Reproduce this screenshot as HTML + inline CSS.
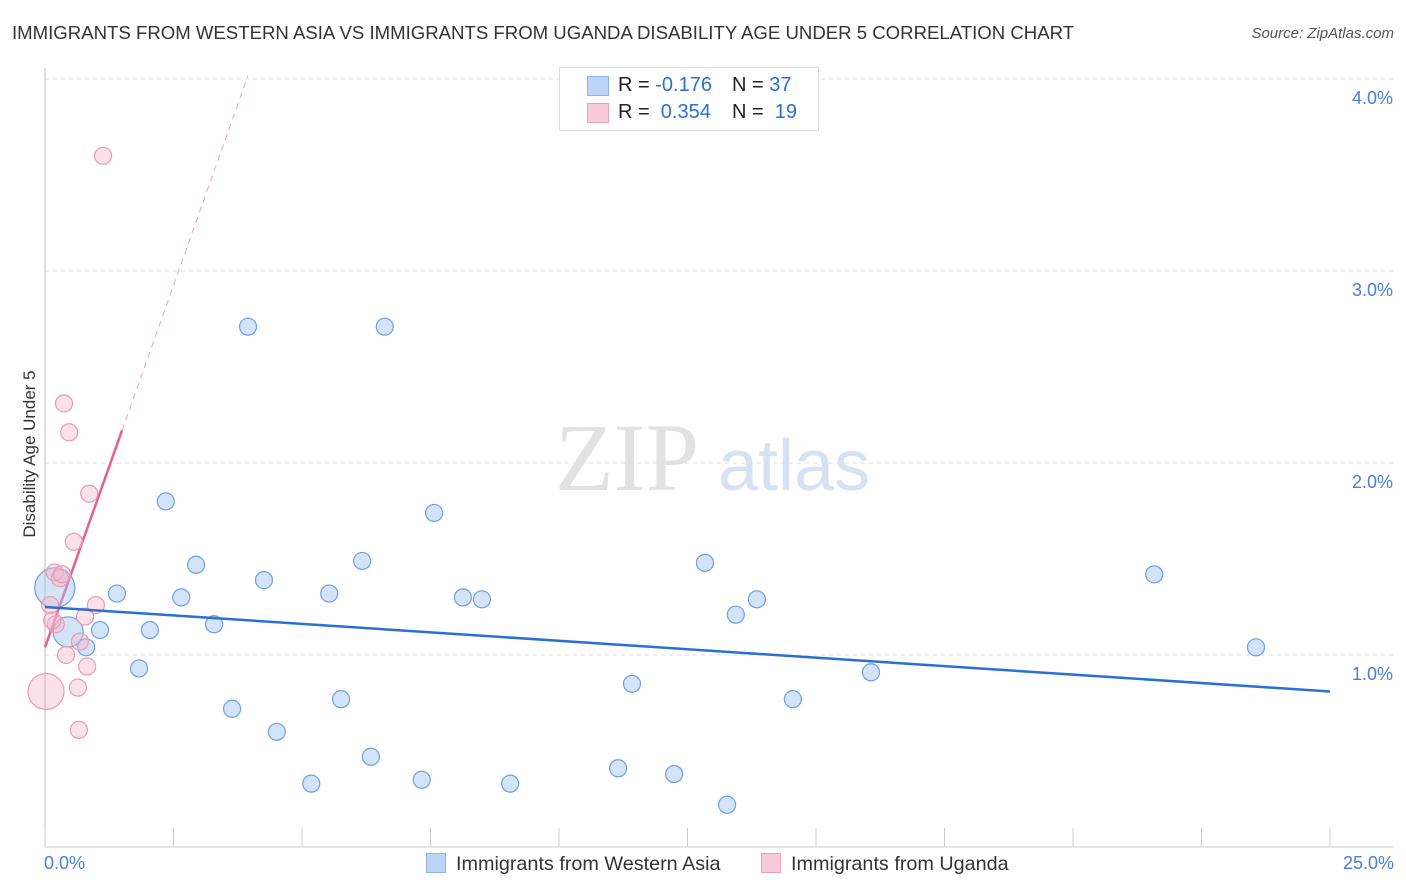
<!DOCTYPE html>
<html><head><meta charset="utf-8"><style>
body{margin:0;background:#fff;font-family:"Liberation Sans",sans-serif;}
#wrap{position:relative;width:1406px;height:892px;overflow:hidden;}
.t{position:absolute;white-space:nowrap;}
</style></head><body>
<div id="wrap">
<div class="t" style="left:12px;top:22px;font-size:18.6px;color:#333;">IMMIGRANTS FROM WESTERN ASIA VS IMMIGRANTS FROM UGANDA DISABILITY AGE UNDER 5 CORRELATION CHART</div>
<div class="t" style="right:12px;top:25px;font-size:15px;color:#555;font-style:italic;">Source: ZipAtlas.com</div>
<svg id="svg" width="1406" height="892" style="position:absolute;left:0;top:0"></svg>
</div>
<script>
const blueX=[3.95,6.61,2.35,7.57,2.94,6.17,4.26,1.40,2.65,5.53,8.13,8.50,3.29,2.04,1.07,0.80,1.83,3.64,4.51,5.76,6.34,5.18,7.33,9.05,11.42,11.15,12.24,13.27,12.84,13.85,13.44,14.55,16.07,21.58,23.56,0.19,0.45];
const blueY=[2.71,2.71,1.80,1.74,1.47,1.49,1.39,1.32,1.30,1.32,1.30,1.29,1.16,1.13,1.13,1.04,0.93,0.72,0.60,0.77,0.47,0.33,0.35,0.33,0.85,0.41,0.38,0.22,1.48,1.29,1.21,0.77,0.91,1.42,1.04,1.35,1.12];
const blueR=[8.5,8.5,8.5,8.5,8.5,8.5,8.5,8.5,8.5,8.5,8.5,8.5,8.5,8.5,8.5,8.5,8.5,8.5,8.5,8.5,8.5,8.5,8.5,8.5,8.5,8.5,8.5,8.5,8.5,8.5,8.5,8.5,8.5,8.5,8.5,20,15];
const pinkX=[1.13,0.37,0.47,0.86,0.56,0.19,0.29,0.99,0.78,0.10,0.21,0.68,0.41,0.82,0.64,0.02,0.66,0.33,0.14];
const pinkY=[3.60,2.31,2.16,1.84,1.59,1.43,1.40,1.26,1.20,1.26,1.16,1.07,1.00,0.94,0.83,0.81,0.61,1.42,1.18];
const pinkR=[8.5,8.5,8.5,8.5,8.5,8.5,8.5,8.5,8.5,8.5,8.5,8.5,8.5,8.5,8.5,18,8.5,8.5,8.5];
const yTicks=[1,2,3,4];
const yTickLabels=["1.0%","2.0%","3.0%","4.0%"];
const blueTrend=[1.25,0.81];
const pinkTrend=[1.04,0.754];
const X=v=>45+v*51.4, Y=v=>847-v*192;
const svg=document.getElementById('svg');const NS='http://www.w3.org/2000/svg';
function mk(t,a,p){const e=document.createElementNS(NS,t);for(const k in a)e.setAttribute(k,a[k]);(p||svg).appendChild(e);return e;}
let w=mk('text',{x:555,y:490,'font-size':96,'font-family':'Liberation Serif',fill:'#e2e2e2'});w.textContent='ZIP';


let w2=mk('text',{x:718,y:490,'font-size':72,'font-family':'Liberation Sans',fill:'#d6e2f3'});w2.textContent='atlas';


yTicks.forEach((v,i)=>{
 let g=mk('line',{x1:45,x2:1393,y1:Y(v),y2:Y(v),stroke:'#ddd','stroke-dasharray':'4,4'});
 
 
 let t=mk('text',{x:1393,y:Y(v)+25,'text-anchor':'end','font-size':18,fill:'#4a7fd6'});t.textContent=yTickLabels[i];
 
 
});
mk('line',{x1:45,x2:45,y1:68,y2:847,stroke:'#bbb'});
mk('line',{x1:45,x2:1393,y1:847,y2:847,stroke:'#ccc'});
for(let i=0;i<=10;i++){let l=mk('line',{x1:X(i*2.5),x2:X(i*2.5),y1:828,y2:847,stroke:'#ccc'});
 
 }
let px1=0,px2=1.5,px3=3.95;
let pl=mk('line',{x1:X(px1),y1:Y(pinkTrend[0]+pinkTrend[1]*px1),x2:X(px2),y2:Y(pinkTrend[0]+pinkTrend[1]*px2),stroke:'#e8608a','stroke-width':2.5});


let pd=mk('line',{x1:X(px2),y1:Y(pinkTrend[0]+pinkTrend[1]*px2),x2:X(px3),y2:Y(pinkTrend[0]+pinkTrend[1]*px3),stroke:'#eaa3b8','stroke-width':1,'stroke-dasharray':'6,5'});


blueX.forEach((x,i)=>{let c=mk('circle',{cx:X(x),cy:Y(blueY[i]),r:blueR[i],fill:'rgba(160,195,240,0.45)',stroke:'#6f9fe0','stroke-width':1.2});
 
 });
pinkX.forEach((x,i)=>{let c=mk('circle',{cx:X(x),cy:Y(pinkY[i]),r:pinkR[i],fill:'rgba(245,180,200,0.4)',stroke:'#eb9ab3','stroke-width':1.2});
 
 });
let bl=mk('line',{x1:X(0),y1:Y(blueTrend[0]),x2:X(25),y2:Y(blueTrend[1]),stroke:'#2a6fd6','stroke-width':2.5});


</script>
<div class="t" style="left:-60px;top:444px;width:180px;text-align:center;font-size:17px;color:#333;transform:rotate(-90deg);">Disability Age Under 5</div>
<div class="t" style="left:44px;top:853px;font-size:18px;color:#4a7fd6;">0.0%</div>
<div class="t" style="right:12px;top:853px;font-size:18px;color:#4a7fd6;">25.0%</div>
<div style="position:absolute;left:559px;top:67px;width:258px;height:62px;border:1px solid #ddd;background:#fff;font-size:20px;">
 <div style="position:absolute;left:27px;top:8px;width:20px;height:18px;background:#bcd4f5;border:1px solid #8fb2e6;"></div>
 <div class="t" style="left:58px;top:6px;color:#222">R = <span style="color:#2a6fd6">-0.176</span></div>
 <div class="t" style="left:172px;top:6px;color:#222">N = <span style="color:#2a6fd6">37</span></div>
 <div style="position:absolute;left:27px;top:35px;width:20px;height:18px;background:#f9cad8;border:1px solid #eda0b8;"></div>
 <div class="t" style="left:58px;top:33px;color:#222">R = &nbsp;<span style="color:#2a6fd6">0.354</span></div>
 <div class="t" style="left:172px;top:33px;color:#222">N = &nbsp;<span style="color:#2a6fd6">19</span></div>
</div>
<div style="position:absolute;left:426px;top:853px;font-size:19.8px;color:#333;white-space:nowrap;">
 <span style="display:inline-block;width:18px;height:18px;background:#bcd4f5;border:1px solid #8fb2e6;vertical-align:-3px;margin-right:10px"></span>Immigrants from Western Asia</div>
<div style="position:absolute;left:761px;top:853px;font-size:19.8px;color:#333;white-space:nowrap;">
 <span style="display:inline-block;width:18px;height:18px;background:#f9cad8;border:1px solid #eda0b8;vertical-align:-3px;margin-right:10px"></span>Immigrants from Uganda</div>
</body></html>
